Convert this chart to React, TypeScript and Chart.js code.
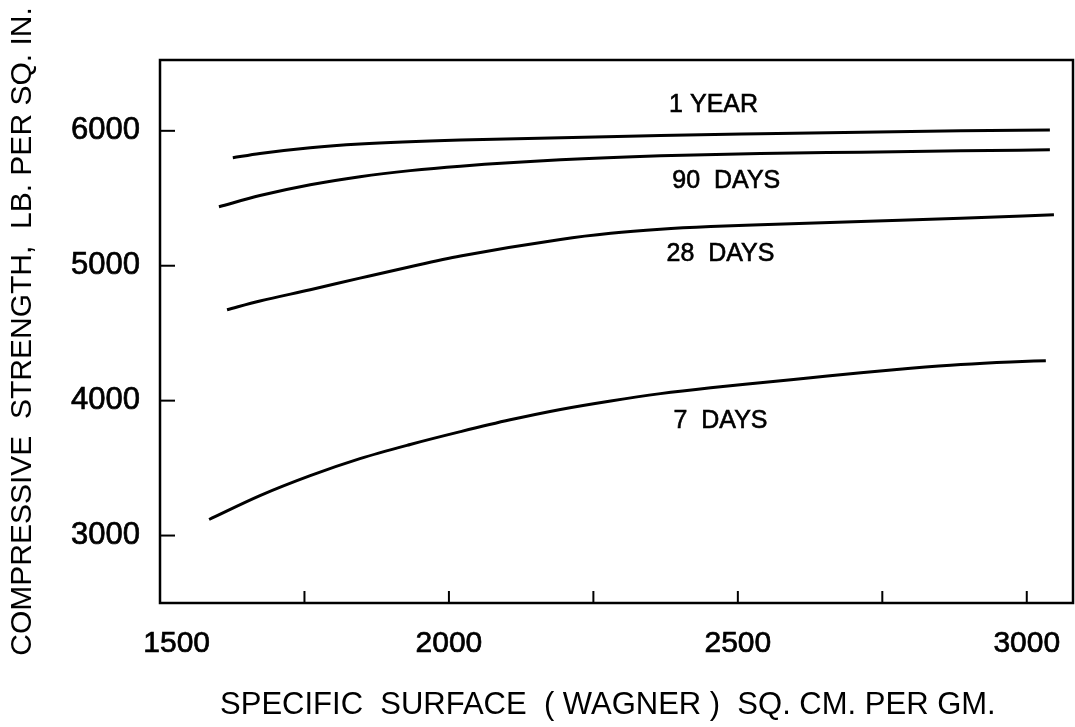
import React, { useEffect, useRef } from 'react';
import { Chart, registerables } from 'chart.js';

Chart.register(...registerables);

// ---- data ----
const yearX = [1626, 1673, 1760, 1846, 2020, 2366, 2539, 2713, 2886, 3040];
const yearY = [5800, 5832, 5875, 5902, 5932, 5965, 5978, 5990, 6000, 6007];

const day90X = [1602, 1673, 1760, 1846, 1933, 2020, 2193, 2366, 2539, 2713, 2886, 3040];
const day90Y = [5437, 5520, 5600, 5660, 5705, 5738, 5785, 5815, 5832, 5842, 5852, 5859];

const day28X = [1616, 1673, 1760, 1846, 1933, 2020, 2193, 2280, 2366, 2453, 2539, 2713, 2886, 3047];
const day28Y = [4674, 4738, 4822, 4908, 4993, 5072, 5195, 5240, 5270, 5290, 5303, 5328, 5352, 5378];

const day7X = [1585, 1673, 1760, 1846, 1933, 2020, 2106, 2193, 2280, 2366, 2453, 2539, 2626, 2713, 2799, 2886, 2972, 3033];
const day7Y = [3119, 3296, 3444, 3570, 3675, 3770, 3858, 3935, 3998, 4052, 4096, 4133, 4170, 4207, 4240, 4268, 4287, 4296];

const curveLabels = ['1 YEAR', '90  DAYS', '28  DAYS', '7  DAYS'];
const curveLabelX = [2458, 2480, 2470, 2470];
const curveLabelY = [6193, 5630, 5089, 3845];

const xTickValues = [1500, 1750, 2000, 2250, 2500, 2750, 3000];
const xLabelValues = [1500, 2000, 2500, 3000];
const yTickValues = [3000, 4000, 5000, 6000];

const xTitle = 'SPECIFIC  SURFACE  ( WAGNER )  SQ. CM. PER GM.';
const yTitle = 'COMPRESSIVE  STRENGTH,  LB. PER SQ. IN.';

const FONT = '"Liberation Sans", Arial, Helvetica, sans-serif';

function pts(xs: number[], ys: number[]) {
  return xs.map((x, i) => ({ x, y: ys[i] }));
}

const framePlugin = {
  id: 'framePlugin',
  afterDraw(chart: any) {
    const { ctx, chartArea } = chart;
    const { left, right, top, bottom } = chartArea;
    const xs = chart.scales.x;
    const ys = chart.scales.y;
    ctx.save();
    ctx.strokeStyle = '#000';
    ctx.lineWidth = 2.5;
    ctx.strokeRect(left, top, right - left, bottom - top);
    // inward tick marks
    ctx.lineWidth = 2;
    xs.ticks.forEach((t: any) => {
      const px = xs.getPixelForValue(t.value);
      if (px <= left + 2 || px >= right - 2) return;
      ctx.beginPath();
      ctx.moveTo(px, bottom);
      ctx.lineTo(px, bottom - 12);
      ctx.stroke();
    });
    ys.ticks.forEach((t: any) => {
      const py = ys.getPixelForValue(t.value);
      ctx.beginPath();
      ctx.moveTo(left, py);
      ctx.lineTo(left + 15, py);
      ctx.stroke();
    });
    // curve labels
    ctx.fillStyle = '#000';
    ctx.strokeStyle = '#000';
    ctx.lineWidth = 0.6;
    ctx.font = `25px ${FONT}`;
    ctx.textAlign = 'center';
    ctx.textBaseline = 'middle';
    curveLabels.forEach((txt, i) => {
      const px = xs.getPixelForValue(curveLabelX[i]);
      const py = ys.getPixelForValue(curveLabelY[i]);
      ctx.fillText(txt, px, py);
      ctx.strokeText(txt, px, py);
    });
    ctx.restore();
  },
};

export default function App() {
  const ref = useRef<HTMLCanvasElement | null>(null);
  useEffect(() => {
    if (!ref.current) return;
    const lineStyle = {
      borderColor: '#000',
      backgroundColor: '#000',
      borderWidth: 3,
      pointRadius: 0,
      fill: false,
      tension: 0.4,
      cubicInterpolationMode: 'monotone' as const,
    };
    const chart = new Chart(ref.current, {
      type: 'line',
      data: {
        datasets: [
          { label: '1 YEAR', data: pts(yearX, yearY), ...lineStyle },
          { label: '90 DAYS', data: pts(day90X, day90Y), ...lineStyle },
          { label: '28 DAYS', data: pts(day28X, day28Y), ...lineStyle },
          { label: '7 DAYS', data: pts(day7X, day7Y), ...lineStyle },
        ],
      },
      options: {
        responsive: false,
        animation: false,
        devicePixelRatio: 1,
        layout: { padding: { top: 60, right: 2, left: 0, bottom: 0 } },
        plugins: { legend: { display: false }, tooltip: { enabled: false } },
        scales: {
          x: {
            type: 'linear',
            min: 1500,
            max: 3080,
            grid: { display: false, drawTicks: false },
            border: { display: false },
            afterBuildTicks: (s: any) => {
              s.ticks = xTickValues.map((v) => ({ value: v }));
            },
            afterFit: (s: any) => {
              s.height = 124;
              s.paddingLeft = 0;
              s.paddingRight = 0;
            },
            ticks: {
              autoSkip: false,
              maxRotation: 0,
              padding: 23,
              color: '#000',
              textStrokeColor: '#000',
              textStrokeWidth: 0.7,
              font: { family: FONT, size: 30 },
              callback: (v: any) => {
                const n = Number(v);
                if (!xLabelValues.includes(n)) return '';
                return n === xTickValues[0] ? '    ' + String(n) : String(n);
              },
            },
            title: {
              display: true,
              text: xTitle + '  ',
              color: '#000',
              font: { family: FONT, size: 31 },
              padding: { top: 0, bottom: 3 },
            },
          },
          y: {
            type: 'linear',
            min: 2500,
            max: 6525,
            grid: { display: false, drawTicks: false },
            border: { display: false },
            afterBuildTicks: (s: any) => {
              s.ticks = yTickValues.map((v) => ({ value: v }));
            },
            afterFit: (s: any) => {
              s.width = 160;
            },
            ticks: {
              padding: 20,
              color: '#000',
              textStrokeColor: '#000',
              textStrokeWidth: 0.7,
              font: { family: FONT, size: 31 },
              callback: (v: any) => String(v),
            },
            title: {
              display: true,
              text: yTitle,
              color: '#000',
              font: { family: FONT, size: 30 },
              padding: { top: 5, bottom: 0 },
            },
          },
        },
      },
      plugins: [framePlugin],
    });
    return () => chart.destroy();
  }, []);
  return (
    <div style={{ position: 'absolute', left: 0, top: 0, width: 1075, height: 727, background: '#fff' }}>
      <canvas ref={ref} width={1075} height={727} />
    </div>
  );
}
